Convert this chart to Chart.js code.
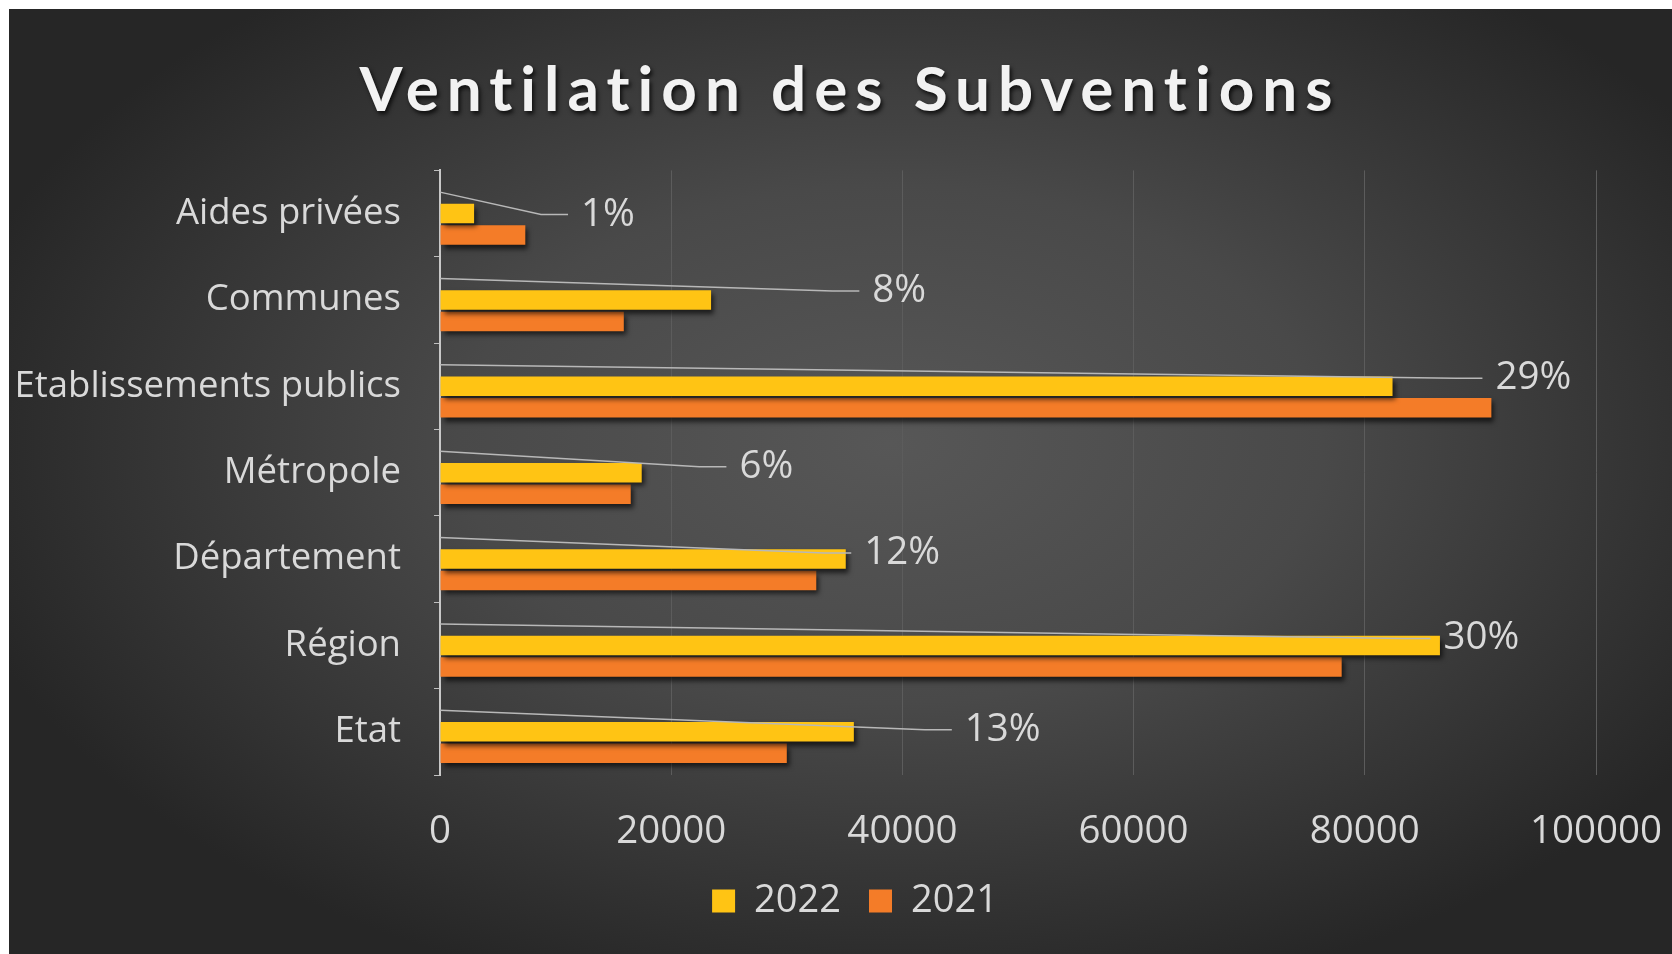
<!DOCTYPE html>
<html><head><meta charset="utf-8">
<script src="https://cdn.jsdelivr.net/npm/chart.js@4"></script>
<style>
html,body{margin:0;padding:0;background:#fff;width:1672px;height:954px;overflow:hidden;}
#wrap{position:absolute;left:9px;top:9px;width:1663px;height:945px;}
</style></head><body>
<div id="wrap"><canvas id="c" width="1663" height="945"></canvas></div>
<script>
// ---- data ----
const categories = ['Aides privées','Communes','Etablissements publics','Métropole','Département','Région','Etat'];
const values2022 = [2950, 23450, 82400, 17450, 35100, 86500, 35800];
const values2021 = [7380, 15900, 90950, 16500, 32550, 78000, 30000];
const shares2022 = [1, 8, 29, 6, 12, 30, 13];
const seriesNames = ['2022', '2021'];
const xTicks = [0, 20000, 40000, 60000, 80000, 100000];
const chartTitle = 'Ventilation des Subventions';

// where the (hand-dragged) percentage labels sit: [axis value of label start, vertical offset px]
const shareLabelAnchors = [[12200, 1], [37400, -9], [91300, -8], [25900, -6], [36700, -6], [86800, -7], [45400, -2]];

const TXT = '#d9d9d9';
const FONT = 'Open Sans';

const bgPlugin = {
  id: 'bg',
  beforeDraw(chart) {
    const ctx = chart.ctx, w = chart.width, h = chart.height;
    ctx.save();
    ctx.fillStyle = '#262626';
    ctx.fillRect(0, 0, w, h);
    ctx.translate(w * 0.53, h * 0.46);
    ctx.scale(1, 0.6);
    const g = ctx.createRadialGradient(0, 0, 0, 0, 0, 960);
    g.addColorStop(0, '#575757');
    g.addColorStop(0.45, '#494949');
    g.addColorStop(1, '#262626');
    ctx.fillStyle = g;
    ctx.fillRect(-w, -h * 2, w * 2, h * 4);
    ctx.restore();
  }
};

const shadowPlugin = {
  id: 'barShadow',
  beforeDatasetsDraw(chart) {
    const ctx = chart.ctx;
    ctx.save();
    ctx.shadowColor = 'rgba(0,0,0,0.65)';
    ctx.shadowOffsetX = 3;
    ctx.shadowOffsetY = 4;
    ctx.shadowBlur = 5;
  },
  afterDatasetsDraw(chart) {
    chart.ctx.restore();
  }
};

const sharesPlugin = {
  id: 'shares',
  afterDatasetsDraw(chart, args, opts) {
    const ctx = chart.ctx;
    const xs = chart.scales.x, ys = chart.scales.y;
    const meta = chart.getDatasetMeta(0);
    ctx.save();
    ctx.strokeStyle = '#b8b8b8';
    ctx.lineWidth = 1.5;
    ctx.fillStyle = TXT;
    ctx.font = '38.5px "' + FONT + '"';
    ctx.textAlign = 'left';
    ctx.textBaseline = 'middle';
    meta.data.forEach((el, i) => {
      const a = opts.anchors[i];
      const sx = xs.getPixelForValue(0);
      const sy = el.y;
      const lx = xs.getPixelForValue(a[0]);
      const ly = ys.getPixelForValue(i) + a[1];
      ctx.beginPath();
      ctx.moveTo(sx, sy);
      ctx.lineTo(lx - 40, ly);
      ctx.lineTo(lx - 13, ly);
      ctx.stroke();
      ctx.fillText(shares2022[i] + '%', lx, ly);
    });
    ctx.restore();
  }
};

// shift the legend so that it is centred where the reference has it
const legendShift = {
  id: 'legendShift',
  afterLayout(chart, args, opts) {
    const lg = chart.legend;
    if (!lg) return;
    const dx = opts.centerX - (lg.left + lg.right) / 2;
    lg.left += dx;
    lg.right += dx;
  }
};

const chart = new Chart(document.getElementById('c'), {
  type: 'bar',
  data: {
    labels: categories,
    datasets: [
      { label: 'Part 2022', data: shares2022, backgroundColor: 'rgba(0,0,0,0)' },
      { label: seriesNames[0], data: values2022, backgroundColor: '#FFC414' },
      { label: seriesNames[1], data: values2021, backgroundColor: '#F47C28' }
    ]
  },
  options: {
    indexAxis: 'y',
    responsive: false,
    animation: false,
    devicePixelRatio: 1,
    categoryPercentage: 0.746,
    barPercentage: 0.907,
    layout: { padding: { left: 0, right: 76, top: 0, bottom: 24 } },
    scales: {
      x: {
        min: 0, max: 100000,
        afterBuildTicks(s) { s.ticks = xTicks.map(v => ({ value: v })); },
        afterFit(s) { s.height = 79; },
        ticks: {
          color: TXT, font: { family: FONT, size: 38.5 }, padding: 0,
          maxRotation: 0, autoSkip: false,
          callback: v => String(v)
        },
        grid: {
          color: c => (c.tick && c.tick.value === 0) ? 'rgba(0,0,0,0)' : '#5c5c5c',
          lineWidth: 1, drawTicks: true, tickLength: 34, tickColor: 'rgba(0,0,0,0)'
        },
        border: { display: false }
      },
      y: {
        afterFit(s) { s.width = 431; },
        ticks: { color: TXT, font: { family: FONT, size: 36.5 }, padding: 33 },
        grid: { drawOnChartArea: false, drawTicks: true, tickLength: 6, color: '#bfbfbf', offset: true },
        border: { color: '#c8c8c8', width: 2 }
      }
    },
    plugins: {
      title: {
        display: true, text: chartTitle, color: '#f2f2f2',
        font: { family: 'Lato', size: 62, weight: 'bold' },
        padding: { top: 45, bottom: 42 }
      },
      legend: {
        position: 'bottom',
        labels: {
          color: TXT, font: { family: FONT, size: 38 },
          boxWidth: 23, boxHeight: 23, padding: 28,
          filter: item => item.datasetIndex !== 0
        }
      },
      tooltip: { enabled: false },
      shares: { anchors: shareLabelAnchors },
      legendShift: { centerX: 846 }
    }
  },
  plugins: [bgPlugin, shadowPlugin, sharesPlugin, legendShift]
});

// letter-spaced, shadowed title, centred where the reference has it
const tb = chart.titleBlock;
if (tb) {
  const orig = tb.draw.bind(tb);
  const spacing = 8;
  tb.draw = function () {
    const ctx = this.ctx;
    ctx.save();
    ctx.translate(837 + spacing / 2 - (this.left + this.right) / 2, 0);
    try { ctx.letterSpacing = spacing + 'px'; } catch (e) {}
    ctx.shadowColor = 'rgba(0,0,0,0.75)';
    ctx.shadowOffsetX = 2;
    ctx.shadowOffsetY = 3;
    ctx.shadowBlur = 4;
    orig();
    ctx.restore();
  };
  chart.draw();
}
</script>
</body></html>
